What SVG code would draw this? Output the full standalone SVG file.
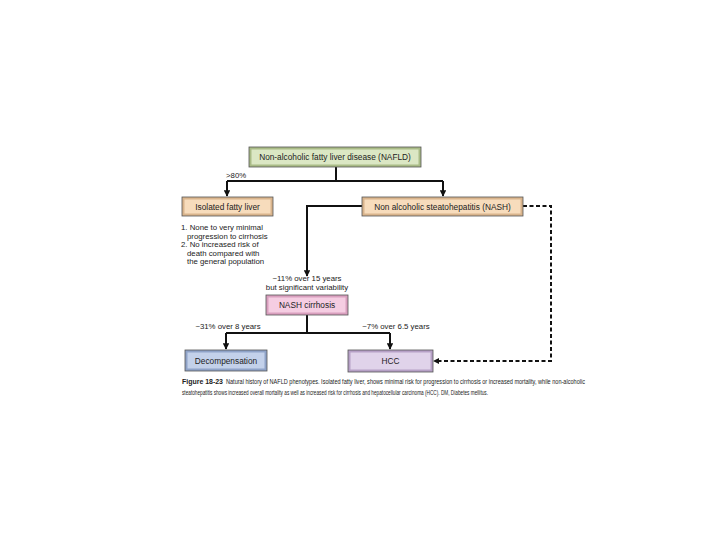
<svg xmlns="http://www.w3.org/2000/svg" width="720" height="540" viewBox="0 0 720 540">
<defs>
<style>
text{font-family:"Liberation Sans",Arial,sans-serif;fill:#222}
.lbl{font-size:8.3px;text-anchor:middle}
.mid{font-size:7.8px;text-anchor:middle}
.note{font-size:7.8px}
.cap{font-size:6.8px}
.ln{fill:none;stroke:#111;stroke-width:2}
.dash{fill:none;stroke:#111;stroke-width:2;stroke-dasharray:4 2.5}
.edge{stroke:#555;stroke-width:0.8}
</style>
<marker id="ah" viewBox="0 0 10 10" refX="9" refY="5" markerWidth="3.2" markerHeight="3.2" orient="auto">
<path d="M0,0 L10,5 L0,10 z" fill="#111"/>
</marker>
</defs>
<rect width="720" height="540" fill="#fff"/>

<g id="connectors">
<path class="ln" d="M336,167 V181"/>
<path class="ln" d="M227,181 H443"/>
<path class="ln" d="M227,181 V196" marker-end="url(#ah)"/>
<path class="ln" d="M443,181 V196" marker-end="url(#ah)"/>
<path class="ln" d="M362,206 H307 V276" marker-end="url(#ah)"/>
<path class="ln" d="M307,315 V333"/>
<path class="ln" d="M226,333 H390"/>
<path class="ln" d="M226,333 V349" marker-end="url(#ah)"/>
<path class="ln" d="M390,333 V349" marker-end="url(#ah)"/>
<path class="dash" d="M523,206 H551 V361 H437"/>
<path d="M433,361 L439,358 L439,364 z" fill="#111"/>
<text class="note" x="226" y="178">&gt;80%</text>
<text class="mid" x="307" y="281">~11% over 15 years</text>
<text class="mid" x="307" y="290">but significant variability</text>
<text class="mid" x="228" y="329">~31% over 8 years</text>
<text class="mid" x="396" y="329">~7% over 6.5 years</text>
</g>

<g id="nafld">
<rect x="249" y="147" width="172" height="20" fill="#a9bb86" class="edge"/>
<rect x="251.5" y="149.5" width="167" height="15" fill="#dbe7c4"/>
<text class="lbl" x="335" y="160">Non-alcoholic fatty liver disease (NAFLD)</text>
</g>

<g id="fatty">
<rect x="182" y="197" width="91" height="19" fill="#d9b48c" class="edge"/>
<rect x="184.5" y="199.5" width="86" height="14" fill="#f7dcbc"/>
<text class="lbl" x="227.5" y="209.5">Isolated fatty liver</text>
</g>

<g id="fatty-notes">
<text class="note" x="181" y="230">1. None to very minimal</text>
<text class="note" x="187" y="238.5">progression to cirrhosis</text>
<text class="note" x="181" y="247">2. No increased risk of</text>
<text class="note" x="187" y="255.5">death compared with</text>
<text class="note" x="187" y="264">the general population</text>
</g>

<g id="nash">
<rect x="362" y="197" width="161" height="19" fill="#d9b48c" class="edge"/>
<rect x="364.5" y="199.5" width="156" height="14" fill="#f7dcbc"/>
<text class="lbl" x="442.5" y="209.5">Non alcoholic steatohepatitis (NASH)</text>
</g>

<g id="cirrhosis">
<rect x="266" y="295" width="82" height="20" fill="#d99fbe" class="edge"/>
<rect x="268.5" y="297.5" width="77" height="15" fill="#f5cde2"/>
<text class="lbl" x="307" y="308">NASH cirrhosis</text>
</g>

<g id="decomp">
<rect x="185" y="350" width="82" height="21" fill="#8fa3c8" class="edge"/>
<rect x="187.5" y="352.5" width="77" height="16" fill="#c3d1ea"/>
<text class="lbl" x="226" y="363.5">Decompensation</text>
</g>

<g id="hcc">
<rect x="348" y="350" width="85" height="22" fill="#b6a0c6" class="edge"/>
<rect x="350.5" y="352.5" width="80" height="17" fill="#e0d3ea"/>
<text class="lbl" x="390.5" y="364">HCC</text>
</g>

<g id="caption">
<text class="cap" x="182" y="384" font-weight="bold" textLength="41" lengthAdjust="spacingAndGlyphs">Figure 18-23</text>
<text class="cap" x="226" y="384" textLength="359" lengthAdjust="spacingAndGlyphs">Natural history of NAFLD phenotypes. Isolated fatty liver, shows minimal risk for progression to cirrhosis or increased mortality, while non-alcoholic</text>
<text class="cap" x="182" y="395" textLength="306" lengthAdjust="spacingAndGlyphs">steatohepatitis shows increased overall mortality as well as increased risk for cirrhosis and hepatocellular carcinoma (HCC). DM, Diabetes mellitus.</text>
</g>
</svg>
